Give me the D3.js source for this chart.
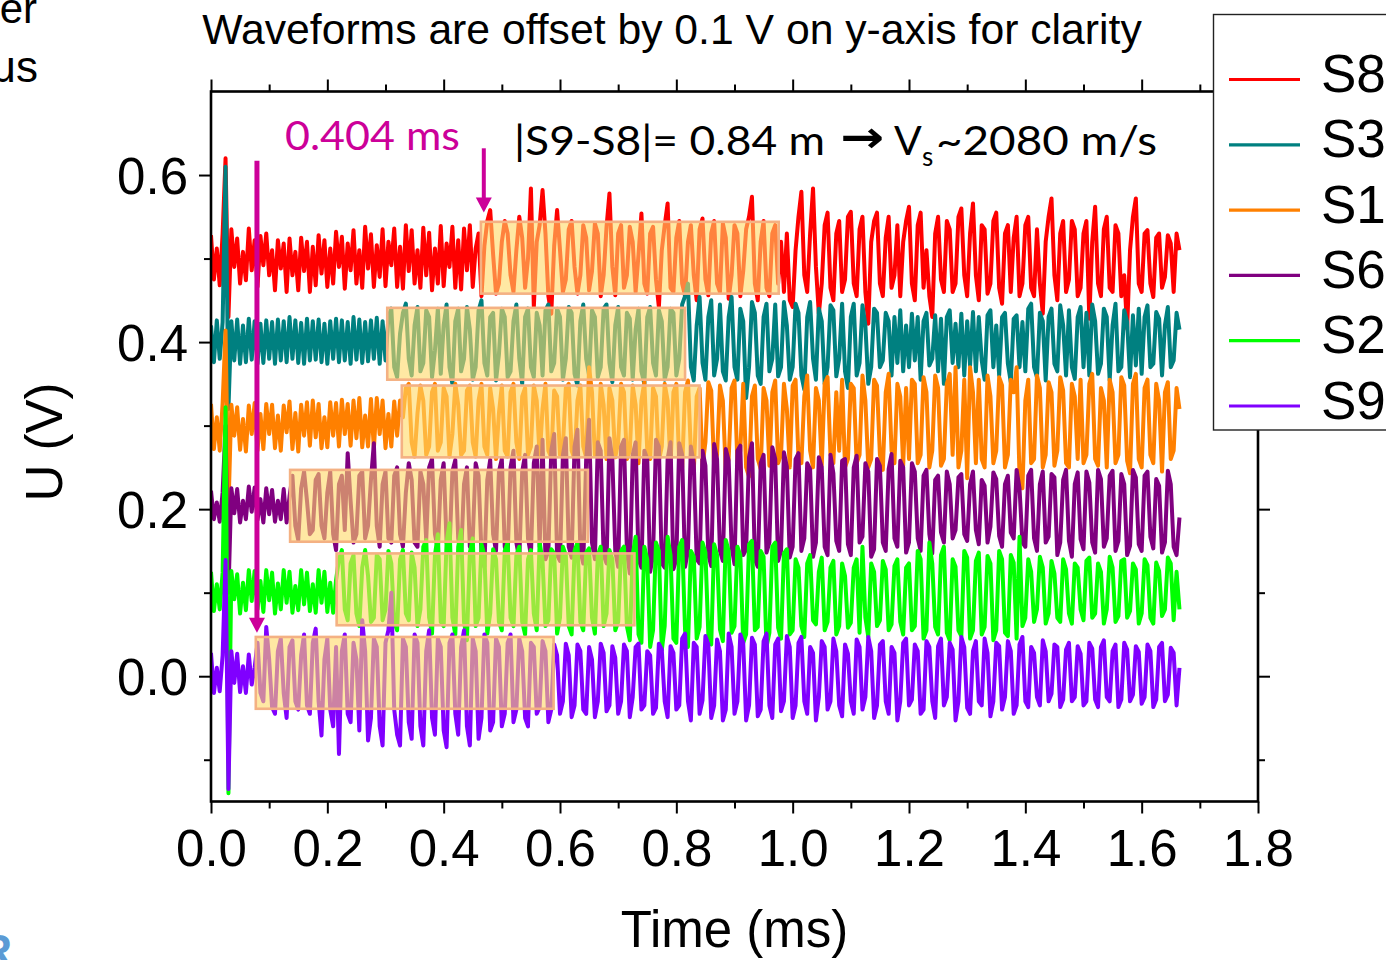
<!DOCTYPE html>
<html><head><meta charset="utf-8">
<script src="https://cdn.jsdelivr.net/npm/d3@7"></script>
<style>body{margin:0;background:#fff}svg{display:block}</style>
</head><body>
<svg id="chart" width="1386" height="960"></svg>
<script>
// ---------------- data ----------------
const seriesNames   = ["S8","S3","S1","S6","S2","S9"];
const seriesColors  = ["#ff0000","#008080","#ff8000","#800080","#00ff00","#8000ff"];
const seriesOffsets = [0.5,0.4,0.3,0.2,0.1,0.0];      // V, offset per waveform
const sampleStep = 0.005;                               // ms between samples
// waveform samples, mV deviation from the offset (one row = 0.1 ms)
const s8 = [
 28,-25,12,-32,30,120,-70,35,-10,24,-30,8,-26,36,-14,22,-34,27,-8,30,
 -20,10,-38,22,-12,18,-40,24,-20,8,-38,25,-15,20,-40,14,-32,28,-18,22,
 -34,12,-30,32,-10,26,-36,18,-14,34,-30,10,-35,38,-12,29,-34,16,-22,35,
 -33,20,-8,36,-34,14,-36,40,-15,34,-30,10,-35,37,-20,31,-38,12,-30,39,
 -33,18,-10,38,-35,22,-37,36,-14,40,-34,12,30,-45,15,45,58,5,-42,-30,
 20,45,30,-20,-40,10,50,25,-35,0,84,-58,20,40,82,30,-45,-66,15,58,
 10,-40,-25,35,45,-10,-42,-20,40,25,-38,-15,42,30,-45,-20,38,78,-10,-44,
 30,40,-35,-20,38,20,-40,5,54,-30,-42,30,38,-25,-58,10,40,66,-35,-40,
 25,45,-30,-45,20,40,-20,-50,35,48,-25,-44,30,45,-30,-40,42,25,-48,-20,
 40,30,-45,-15,35,50,74,-30,-50,20,45,-35,-45,30,40,-30,20,-40,30,-50,
 -58,10,50,80,-20,-40,30,84,-10,-66,-30,40,55,-35,-50,30,45,-40,-25,50,
 56,-30,-45,35,50,-40,-78,20,45,55,-30,-45,25,50,-35,-20,40,-45,20,45,
 62,-30,-50,40,55,-35,10,-45,-70,30,50,-25,-40,45,35,-40,-30,50,60,-20,
 -45,30,66,-20,-50,40,35,-42,-30,45,55,-35,-54,30,40,-40,25,50,-45,-30,
 40,50,-35,-45,35,-30,-66,20,50,72,-20,-50,30,45,-40,-25,45,35,-45,-35,
 30,45,-72,20,62,-30,-45,35,50,-35,-40,40,30,-45,-20,-84,10,50,72,-30,
 -40,30,34,-30,-46,25,30,-35,-22,28,18,-40,30,10];
const s3 = [
 20,-24,26,-20,24,210,-80,25,-22,27,-26,20,-24,28,-21,25,-26,22,-25,26,
 -20,24,-26,27,-22,25,-24,30,-20,26,-25,23,-26,28,-22,25,-21,27,-24,22,
 -26,25,-20,28,-24,26,-22,24,-26,30,-21,27,-25,24,-23,26,-20,29,-26,25,
 -22,30,40,-30,-42,10,35,46,-20,-40,20,42,-35,-25,38,30,-42,-10,40,-38,
 20,45,-30,-50,25,40,-35,-20,42,15,-45,-30,38,50,-25,-40,30,35,-46,-15,
 40,30,-42,-35,25,45,-20,-50,30,40,-30,-42,35,20,-40,38,45,-35,-25,40,
 30,-45,-20,42,35,-38,-52,25,45,-20,-40,38,30,-42,-30,40,45,-25,-48,20,
 42,-30,-40,35,28,-45,15,40,-35,-50,30,42,-25,-40,38,25,-45,-30,40,35,
 -40,-20,45,55,70,-30,-46,20,54,-25,-45,30,50,-40,-20,45,-35,-46,30,54,
 -30,-45,40,25,-67,-30,48,35,-40,-50,30,46,-35,-20,45,-41,-30,48,20,-45,
 -30,46,35,-40,-57,30,48,-20,-45,40,25,-50,-30,44,38,-41,-20,46,-35,-55,
 30,46,-40,-25,44,20,-50,-30,40,35,-30,-22,35,25,-40,30,-25,38,-35,20,
 -30,34,-22,30,-45,25,35,-28,-20,32,-35,28,-50,30,38,-25,22,-30,34,-40,
 25,-28,36,-35,30,-22,-45,32,38,-30,20,-40,30,35,-26,-48,28,32,-30,24,
 -35,40,46,-30,-42,35,25,-46,30,40,-26,-35,44,20,-40,38,-30,-44,30,42,
 -30,35,-40,45,25,-38,-26,40,30,-46,20,46,-35,-30,38,24,-42,32,-28,40,
 -38,30,44,-30,-26,36,28,-40,20,42,-30,-22,35,15];
const s1 = [
 26,-28,10,-30,27,114,-100,25,-12,22,-29,8,-31,24,-10,27,-30,14,-28,26,
 -10,25,-27,12,-30,24,-8,29,-28,15,-31,25,-12,28,-24,30,-14,26,-27,10,
 -26,28,-12,27,-25,31,-10,26,-24,30,-15,33,-26,12,-25,32,-28,33,-10,30,
 -27,14,-25,29,-12,30,10,45,50,-20,-37,15,48,30,-35,-25,40,50,-30,-20,
 45,35,-37,-10,50,25,-35,-30,42,48,-20,-37,30,50,-25,-35,45,20,-40,15,
 48,-30,-37,40,50,-20,-40,35,45,-35,-25,48,30,-37,20,50,-30,-38,42,35,
 -35,-25,45,50,-30,-40,30,48,-25,-38,70,40,-35,-30,50,25,-40,45,30,-38,
 -20,50,40,-40,-30,48,25,-45,30,52,-30,-40,45,35,-42,-25,50,30,-48,40,
 50,-45,-50,40,54,-30,-55,35,45,-48,-20,52,42,-50,-35,48,30,-55,-40,45,
 54,-45,-30,50,-50,-61,35,48,-40,-52,45,30,-48,40,54,-45,-35,50,20,-50,
 48,55,-40,-45,35,60,-30,-50,45,30,-48,50,58,-35,-45,40,-30,55,-50,-40,
 50,45,-45,-35,60,30,-50,-40,55,48,-35,-53,40,62,-30,-45,50,35,-48,45,
 -40,55,50,-45,-35,58,40,-50,-30,60,45,-48,-40,50,62,-35,70,-50,-30,55,
 -63,70,40,-45,55,-40,-50,60,35,-45,-30,58,48,-50,-35,55,40,70,-60,-75,
 30,55,-45,-40,60,45,-50,-35,52,40,-48,-30,58,42,-45,-50,50,35,-40,55,
 -45,-35,50,62,-40,-48,45,30,-50,55,40,-45,-35,58,48,-42,-57,50,62,-40,
 -50,45,55,-35,-45,50,30,-55,40,52,-40,-30,45,20];
const s6 = [
 22,-12,8,-15,20,100,-100,25,-5,24,-16,10,-12,27,-3,26,-13,12,-16,25,
 -6,23,-15,10,-12,24,-16,15,40,-20,-37,25,45,10,-30,-25,35,42,-20,-35,
 20,45,-30,-49,30,40,-25,67,10,-40,-30,40,45,-35,-20,35,79,-20,-45,30,
 45,-35,-40,40,50,-30,-45,20,55,35,-40,-45,45,30,-37,50,60,-30,-48,35,
 55,-40,-50,45,59,-35,-55,30,50,-45,-35,55,40,-52,-69,35,59,-30,-50,45,
 60,-45,-55,50,70,-40,-60,45,65,-35,-55,55,75,-45,83,-60,-50,70,90,-55,
 -62,65,85,-45,-58,75,95,-50,-65,60,107,-40,-60,80,70,-55,-65,85,60,-50,
 -69,75,83,-50,-77,65,80,-60,-70,70,60,-75,-55,83,75,-65,-70,60,80,-72,
 -60,79,65,-69,-50,75,55,-60,-65,70,52,-55,-68,78,60,-50,-62,72,58,-45,
 -66,70,76,-55,-48,62,79,-60,-69,55,65,-52,-40,74,60,-62,-50,68,51,-58,
 -45,60,67,-50,-35,55,48,-57,-40,62,50,-45,-55,65,43,-38,-50,58,60,-42,
 -55,50,64,-40,-33,55,45,-57,-48,60,52,-40,-50,48,66,-35,-45,58,50,-52,
 -40,55,45,-35,-50,40,47,-30,-53,35,40,-28,-40,45,30,-35,-25,38,42,-30,
 -38,30,45,-25,-42,35,28,-40,-21,44,36,-32,-45,30,40,-28,-35,47,25,-40,
 -45,40,47,-35,-50,30,45,-40,-33,42,38,-55,-40,35,47,-38,-57,30,44,-36,
 -48,45,32,-40,-52,47,36,-45,-35,40,46,-50,-38,42,30,-55,-44,47,38,-42,
 -50,40,45,-33,-47,36,28,-52,-40,46,30,-45,-55,-10];
const s2 = [
 25,-22,10,-20,24,222,-240,26,-8,22,-25,12,-21,27,-10,26,-20,14,-23,27,
 -9,24,-25,11,-20,27,-12,25,-24,8,-21,27,-14,24,-22,10,-24,27,-12,25,
 -23,12,-24,15,40,51,-20,-33,35,45,-25,-40,30,51,20,-35,-30,45,40,-33,
 -20,50,35,-35,-45,40,51,-25,-33,48,30,-40,-20,55,63,-30,-49,45,70,-35,
 -40,60,83,-30,-50,55,75,-35,-57,48,65,-40,-30,58,45,-49,-25,52,40,-35,
 -45,50,60,-30,-40,45,55,-35,-50,40,51,-25,-45,60,38,-40,-33,52,47,-49,
 -30,55,45,-40,-50,50,60,-35,-45,48,53,-30,-49,45,55,-40,-25,51,40,-45,
 -35,50,55,-40,-57,45,67,-50,-60,55,40,-65,-45,60,50,-69,-40,67,45,-55,
 -60,55,63,-45,-65,50,43,-55,-41,60,48,-50,-62,58,45,-44,-58,63,50,-48,
 -40,55,45,-60,-50,58,62,-45,-41,50,43,-65,-48,55,60,-42,-55,47,52,-50,
 -45,40,30,-40,-53,35,45,-33,-38,25,42,-45,-35,30,38,-50,-40,35,20,-42,
 -36,30,40,-48,55,-30,-53,35,25,-40,-33,38,28,-45,-38,32,40,-35,-50,30,
 35,-45,-40,50,40,-55,-45,60,35,-41,-50,45,55,-48,-57,40,31,-45,-52,50,
 42,-55,-45,38,48,-50,-41,44,35,-57,-45,50,40,-48,-52,45,36,-55,67,-40,
 -30,40,25,-35,-20,43,30,-37,-25,38,23,-30,-35,40,28,-25,-37,35,30,-20,
 -33,38,42,-30,-25,35,25,-37,-20,43,30,-35,-28,38,40,-30,-22,35,28,-37,
 -25,40,33,-30,-37,36,26,-28,-20,42,35,-33,25,-20];
const s9 = [
 28,-20,10,-18,25,139,-135,30,-8,27,-19,12,-20,26,-10,10,40,-20,-30,59,
 20,-37,-45,30,45,-20,-50,35,43,-30,-40,25,50,-35,-45,40,57,-30,-71,20,
 45,-40,-60,35,-93,30,50,-45,-55,40,20,-65,67,30,-77,-50,45,35,-60,-83,
 40,55,100,-40,-70,-83,45,35,-55,-75,50,40,-60,-83,30,55,-50,-70,45,35,
 -65,-85,40,50,-45,-70,35,55,-60,-83,45,30,-75,-50,50,40,-65,-55,45,35,
 -60,-45,40,50,-55,-40,45,30,-50,-60,40,35,-45,-37,42,30,-55,-40,38,25,
 -45,-30,39,25,-49,-35,38,30,-40,-45,35,20,-49,-30,39,28,-42,-35,36,22,
 -45,-30,38,30,-49,-25,35,39,-40,-35,30,25,-45,-38,39,32,-30,-49,36,28,
 -40,-35,45,51,-30,-53,40,35,-45,-29,48,38,-50,-35,44,30,-53,-40,51,35,
 -45,-30,50,40,-53,-35,46,38,-48,-40,42,51,-35,-50,38,45,-42,-30,48,35,
 -50,-35,40,47,-30,-45,35,28,-53,-25,42,35,-40,-30,45,30,-35,-48,38,27,
 -30,-45,44,35,-40,-25,47,30,-50,-35,38,42,-30,-45,35,28,-53,-30,40,45,
 -35,-28,38,30,-45,-40,42,35,-30,-50,36,45,-35,-25,40,32,-53,-30,47,35,
 -38,-45,30,42,-30,-35,45,28,-48,-30,40,36,-40,-25,42,30,-45,-35,38,47,
 -30,-37,35,28,-25,-35,43,30,-30,-21,38,35,-37,-28,32,40,-30,-25,36,27,
 -35,-30,40,33,-28,-37,35,43,-25,-30,30,38,-37,-28,40,32,-30,-22,36,29,
 -33,-25,38,30,-37,-28,35,40,-30,-22,34,28,-35,10];
const seriesValues = [s8,s3,s1,s6,s2,s9];

// highlighted windows (yellow boxes), one per waveform
const boxStarts  = [0.464,0.303,0.328,0.136,0.216,0.077];   // ms
const boxCenters = [0.501,0.398,0.305,0.204,0.104,0.004];   // V
const boxDuration = 0.512;   // ms
const boxHalfHeight = 0.043; // V

// arrival arrows (ms, V from -> V to)
const arrowTimes = [0.079,0.469];
const arrowFrom  = [0.617,0.632];
const arrowTo    = [0.052,0.555];

const xMajorTicks = [0,0.2,0.4,0.6,0.8,1.0,1.2,1.4,1.6,1.8];
const xMinorTicks = [0.1,0.3,0.5,0.7,0.9,1.1,1.3,1.5,1.7];
const yMajorTicks = [0,0.2,0.4,0.6];
const yMinorTicks = [-0.1,0.1,0.3,0.5];

// ---------------- chart ----------------
const svg = d3.select("#chart");
const L = 211, R = 1258, T = 91.5, B = 801.5;
const x = d3.scaleLinear().domain([0,1.8]).range([L,R]);
const y = d3.scaleLinear().domain([-0.15,0.7]).range([B,T]);
const sans = "'Liberation Sans', Arial, sans-serif";
const cal = "Lato, 'Open Sans', sans-serif";
const magenta = "#cc0099";

svg.append("defs").append("clipPath").attr("id","plotclip")
  .append("rect").attr("x",L).attr("y",T).attr("width",R-L).attr("height",B-T);

// waveforms
const line = d3.line().x(d=>x(d.t)).y(d=>y(d.v));
const gLines = svg.append("g").attr("clip-path","url(#plotclip)");
seriesValues.forEach((vals,k)=>{
  const pts = vals.map((mv,i)=>({t:i*sampleStep, v:seriesOffsets[k]+mv/1000}));
  gLines.append("path").datum(pts)
    .attr("d",line).attr("fill","none")
    .attr("stroke",seriesColors[k]).attr("stroke-width",4)
    .attr("stroke-linejoin","round");
});

// yellow boxes
svg.append("g").selectAll("rect").data(boxStarts).join("rect")
  .attr("x",d=>x(d))
  .attr("width",d=>x(d+boxDuration)-x(d))
  .attr("y",(d,i)=>y(boxCenters[i]+boxHalfHeight))
  .attr("height",(d,i)=>y(boxCenters[i]-boxHalfHeight)-y(boxCenters[i]+boxHalfHeight))
  .attr("fill","#ffd966").attr("fill-opacity",0.6)
  .attr("stroke","#f4b183").attr("stroke-width",2.6);

// arrows
const gArr = svg.append("g");
arrowTimes.forEach((t,i)=>{
  const ax = x(t), y0 = y(arrowFrom[i]), y1 = y(arrowTo[i]);
  const hw = 8, hh = 15;
  gArr.append("line").attr("x1",ax).attr("x2",ax).attr("y1",y0).attr("y2",y1-hh+1)
    .attr("stroke",magenta).attr("stroke-width",i===0?5:4);
  gArr.append("path").attr("d",`M${ax-hw},${y1-hh}L${ax+hw},${y1-hh}L${ax},${y1}Z`)
    .attr("fill",magenta);
});

// axes
function styleAxis(g){
  g.select(".domain").remove();
  g.selectAll(".tick line").attr("stroke","#000").attr("stroke-width",2);
  g.selectAll("text").attr("font-family",sans).attr("font-size",51).attr("fill","#000");
}
const gx = svg.append("g").attr("transform",`translate(0,${B})`)
  .call(d3.axisBottom(x).tickValues(xMajorTicks).tickSize(12).tickFormat(d3.format(".1f")));
styleAxis(gx);
gx.selectAll("text").attr("dy",null).attr("y",64.5);
svg.append("g").attr("transform",`translate(0,${B})`)
  .call(d3.axisBottom(x).tickValues(xMinorTicks).tickSize(7).tickFormat("")).call(styleAxis);
svg.append("g").attr("transform",`translate(0,${T})`)
  .call(d3.axisTop(x).tickValues(xMajorTicks).tickSize(12).tickFormat("")).call(styleAxis);
svg.append("g").attr("transform",`translate(0,${T})`)
  .call(d3.axisTop(x).tickValues(xMinorTicks).tickSize(7).tickFormat("")).call(styleAxis);

const gy = svg.append("g").attr("transform",`translate(${L},0)`)
  .call(d3.axisLeft(y).tickValues(yMajorTicks).tickSize(12).tickPadding(11).tickFormat(d3.format(".1f")));
styleAxis(gy);
gy.selectAll("text").attr("dy","0.36em");
svg.append("g").attr("transform",`translate(${L},0)`)
  .call(d3.axisLeft(y).tickValues(yMinorTicks).tickSize(7).tickFormat("")).call(styleAxis);
svg.append("g").attr("transform",`translate(${R},0)`)
  .call(d3.axisRight(y).tickValues(yMajorTicks).tickSize(12).tickFormat("")).call(styleAxis);
svg.append("g").attr("transform",`translate(${R},0)`)
  .call(d3.axisRight(y).tickValues(yMinorTicks).tickSize(7).tickFormat("")).call(styleAxis);

svg.append("rect").attr("x",L).attr("y",T).attr("width",R-L).attr("height",B-T)
  .attr("fill","none").attr("stroke","#000").attr("stroke-width",2.6);

// axis titles
svg.append("text").attr("x",(L+R)/2).attr("y",947).attr("text-anchor","middle")
  .attr("font-family",sans).attr("font-size",51).text("Time (ms)");
svg.append("text").attr("transform","translate(62,442) rotate(-90)").attr("text-anchor","middle")
  .attr("font-family",sans).attr("font-size",51).text("U (V)");

// title
svg.append("text").attr("x",672).attr("y",44).attr("text-anchor","middle")
  .attr("font-family",sans).attr("font-size",42.7)
  .text("Waveforms are offset by 0.1 V on y-axis for clarity");

// annotations
svg.append("text").attr("x",285).attr("y",150).attr("font-family",cal).attr("font-size",41)
  .attr("fill",magenta).attr("textLength",175).attr("lengthAdjust","spacingAndGlyphs").text("0.404 ms");
const ann = svg.append("g").attr("font-family",cal).attr("font-size",41).attr("fill","#000");
ann.append("text").attr("x",514).attr("y",155).attr("textLength",311).attr("lengthAdjust","spacingAndGlyphs")
  .text("|S9-S8|= 0.84 m");
ann.append("text").attr("x",840).attr("y",152).attr("font-family","'DejaVu Sans', sans-serif")
  .attr("font-weight","bold").attr("font-size",44).attr("textLength",44).attr("lengthAdjust","spacingAndGlyphs").text("→");
ann.append("text").attr("x",894).attr("y",155).text("V");
ann.append("text").attr("x",922).attr("y",166).attr("font-size",26).text("s");
ann.append("text").attr("x",936).attr("y",155).attr("textLength",221).attr("lengthAdjust","spacingAndGlyphs")
  .text("~2080 m/s");

// legend
const lg = svg.append("g");
lg.append("rect").attr("x",1213.5).attr("y",14.5).attr("width",200).attr("height",415.5)
  .attr("fill","#fff").attr("stroke","#222").attr("stroke-width",1.4);
seriesNames.forEach((n,i)=>{
  const ly = 79.5 + i*65.3;
  lg.append("line").attr("x1",1229).attr("x2",1300).attr("y1",ly).attr("y2",ly)
    .attr("stroke",seriesColors[i]).attr("stroke-width",3.2);
  lg.append("text").attr("x",1321).attr("y",ly+12.5).attr("font-family",sans)
    .attr("font-size",53).text(n);
});

// cropped neighbouring text at the image edges
svg.append("text").attr("x",37).attr("y",23).attr("text-anchor","end")
  .attr("font-family",sans).attr("font-size",42).text("er");
svg.append("text").attr("x",38).attr("y",82).attr("text-anchor","end")
  .attr("font-family",sans).attr("font-size",44).text("μs");
svg.append("text").attr("x",12).attr("y",966).attr("text-anchor","end")
  .attr("font-family",sans).attr("font-weight","bold").attr("font-size",44).attr("fill","#5b9bd5").text("R");
</script>
</body></html>
